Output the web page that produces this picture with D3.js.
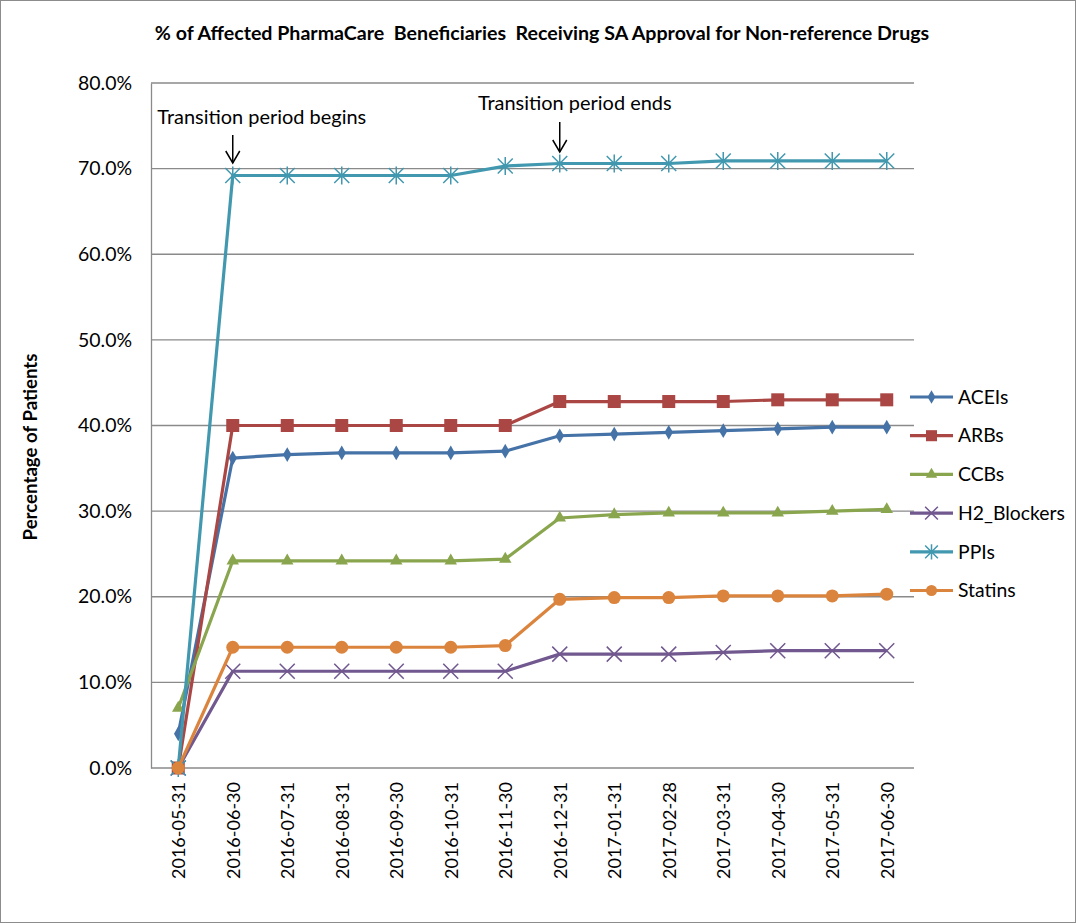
<!DOCTYPE html>
<html><head><meta charset="utf-8">
<script src="https://cdn.jsdelivr.net/npm/d3@7"></script>
<style>body{margin:0;background:#fff}svg{display:block}</style>
</head><body>
<svg id="c" width="1076" height="923"></svg>
<script>
const categories = ["2016-05-31","2016-06-30","2016-07-31","2016-08-31","2016-09-30","2016-10-31","2016-11-30","2016-12-31","2017-01-31","2017-02-28","2017-03-31","2017-04-30","2017-05-31","2017-06-30"];
const seriesNames = ["ACEIs","ARBs","CCBs","H2_Blockers","PPIs","Statins"];
const aceis   = [4.0,36.2,36.6,36.8,36.8,36.8,37.0,38.8,39.0,39.2,39.4,39.6,39.8,39.8];
const arbs    = [0.0,40.0,40.0,40.0,40.0,40.0,40.0,42.8,42.8,42.8,42.8,43.0,43.0,43.0];
const ccbs    = [7.0,24.2,24.2,24.2,24.2,24.2,24.4,29.2,29.6,29.8,29.8,29.8,30.0,30.2];
const h2      = [0.0,11.3,11.3,11.3,11.3,11.3,11.3,13.3,13.3,13.3,13.5,13.7,13.7,13.7];
const ppis    = [0.0,69.2,69.2,69.2,69.2,69.2,70.3,70.6,70.6,70.6,70.9,70.9,70.9,70.9];
const statins = [0.0,14.1,14.1,14.1,14.1,14.1,14.3,19.7,19.9,19.9,20.1,20.1,20.1,20.3];
const yTicks = [0,10,20,30,40,50,60,70,80];
const title = "% of Affected PharmaCare  Beneficiaries  Receiving SA Approval for Non-reference Drugs";
const yTitle = "Percentage of Patients";
const annotations = [{cat:"2016-06-30", text:"Transition period begins"},{cat:"2016-12-31", text:"Transition period ends"}];

const seriesData = [aceis, arbs, ccbs, h2, ppis, statins];
const colors = ["#4572A7","#AA4643","#89A54E","#71588F","#4198AF","#DB843D"];
const markers = ["diamond","square","triangle","x","star","circle"];

const svg = d3.select("#c");
const font = "Lato, 'Open Sans', sans-serif";

// scale a text selection's font size so the reference node reaches target width
function fitWidth(sel, refNode, target) {
  const fs = parseFloat(d3.select(refNode).attr("font-size"));
  const w = refNode.getComputedTextLength();
  sel.attr("font-size", (fs * target / w).toFixed(2));
}

svg.append("rect").attr("x",0.5).attr("y",0.5).attr("width",1075).attr("height",922)
  .attr("fill","#fff").attr("stroke","#8c8c8c");

const L = 151, R = 914, T = 83, B = 768;
const x = d3.scalePoint().domain(categories).range([L, R]).padding(0.5);
const y = d3.scaleLinear().domain([0,80]).range([B, T]);

// gridlines
svg.append("g").selectAll("line").data(yTicks.filter(d=>d>0)).join("line")
  .attr("x1",L).attr("x2",R).attr("y1",d=>y(d)).attr("y2",d=>y(d))
  .attr("stroke","#8a8a8a").attr("stroke-width",1.3);

// y axis
const ya = svg.append("g").attr("transform",`translate(${L},0)`)
  .call(d3.axisLeft(y).tickValues(yTicks).tickFormat(d=>d.toFixed(1)+"%").tickSize(0).tickPadding(19));
ya.select(".domain").attr("stroke","#8a8a8a").attr("stroke-width",1.3);
const yt = ya.selectAll("text").attr("font-family",font).attr("font-size",15).attr("fill","#000");
fitWidth(yt, yt.nodes()[yt.size()-1], 54);

// x axis
const xa = svg.append("g").attr("transform",`translate(0,${B})`)
  .call(d3.axisBottom(x).tickSize(0).tickPadding(0));
xa.select(".domain").attr("stroke","#8a8a8a").attr("stroke-width",1.3).attr("d",`M${L},0H${R}`);
const xt = xa.selectAll("text").attr("font-family",font).attr("font-size",15).attr("fill","#000")
  .attr("transform","rotate(-90)").attr("text-anchor","end").attr("x",-14).attr("y",0).attr("dy","0.35em");
fitWidth(xt, xt.nodes()[0], 97);

// markers
function drawMarker(g, type, color, size) {
  if (type === "diamond") {
    g.append("path").attr("d",d3.symbol(d3.symbolDiamond, size*9)()).attr("fill",color);
  } else if (type === "square") {
    g.append("rect").attr("x",-size).attr("y",-size).attr("width",2*size).attr("height",2*size).attr("fill",color);
  } else if (type === "triangle") {
    g.append("path").attr("d",d3.symbol(d3.symbolTriangle, size*9)()).attr("fill",color);
  } else if (type === "circle") {
    g.append("circle").attr("r",size).attr("fill",color);
  } else if (type === "x") {
    const s = size;
    g.append("path").attr("d",`M${-s},${-s}L${s},${s}M${-s},${s}L${s},${-s}`).attr("stroke",color).attr("stroke-width",1.5);
  } else if (type === "star") {
    const s = size;
    g.append("path").attr("d",`M${-s},${-s}L${s},${s}M${-s},${s}L${s},${-s}M0,${-s*1.2}L0,${s*1.2}`).attr("stroke",color).attr("stroke-width",1.5);
  }
}
const mSize = {diamond:7, square:6.5, triangle:7.5, circle:6.5, x:7.5, star:7.5};

const line = d3.line().x((d,i)=>x(categories[i])).y(d=>y(d));
seriesData.forEach((vals, si) => {
  const g = svg.append("g");
  g.append("path").datum(vals).attr("d",line).attr("fill","none")
    .attr("stroke",colors[si]).attr("stroke-width",3.2).attr("stroke-linejoin","round");
  vals.forEach((v,i)=>{
    const mg = g.append("g").attr("transform",`translate(${x(categories[i])},${y(v)})`);
    drawMarker(mg, markers[si], colors[si], mSize[markers[si]]);
  });
});

// legend
const lg = svg.append("g");
const legTexts = [];
seriesNames.forEach((n, i) => {
  const ly = 397 + i*38.7;
  const g = lg.append("g").attr("transform",`translate(0,${ly})`);
  g.append("line").attr("x1",910).attr("x2",953).attr("y1",0).attr("y2",0).attr("stroke",colors[i]).attr("stroke-width",3.2);
  const mg = g.append("g").attr("transform","translate(931.5,0)");
  drawMarker(mg, markers[i], colors[i], mSize[markers[i]]*0.85);
  legTexts.push(g.append("text").attr("class","leg").attr("x",958).attr("y",0).attr("dy","0.35em").attr("font-family",font).attr("font-size",16.5).attr("fill","#000").text(n).node());
});
fitWidth(lg.selectAll("text.leg"), legTexts[3], 107);

// title
const tt = svg.append("text").attr("x",542).attr("y",40).attr("text-anchor","middle")
  .attr("font-family",font).attr("font-weight","bold").attr("font-size",15.5).attr("fill","#000")
  .attr("xml:space","preserve").style("white-space","pre").text(title);
fitWidth(tt, tt.node(), 775);

// y title
const ytt = svg.append("text").attr("transform","translate(37,447) rotate(-90)").attr("text-anchor","middle")
  .attr("font-family",font).attr("font-weight","bold").attr("font-size",15.5).attr("fill","#000").text(yTitle);
fitWidth(ytt, ytt.node(), 187);

// annotations
const annY = [{text:124, a1:135, a2:163, dx:29},{text:110, a1:122, a2:152, dx:15}];
const annNodes = [];
annotations.forEach((a, i) => {
  const cx = x(a.cat);
  annNodes.push(svg.append("text").attr("class","ann").attr("x",cx+annY[i].dx).attr("y",annY[i].text).attr("text-anchor","middle")
    .attr("font-family",font).attr("font-size",18).attr("fill","#000").text(a.text).node());
  svg.append("line").attr("x1",cx).attr("x2",cx).attr("y1",annY[i].a1).attr("y2",annY[i].a2).attr("stroke","#000").attr("stroke-width",1.5);
  svg.append("path").attr("d",`M${cx-7},${annY[i].a2-12}L${cx},${annY[i].a2}L${cx+7},${annY[i].a2-12}`)
    .attr("fill","none").attr("stroke","#000").attr("stroke-width",1.5);
});
fitWidth(svg.selectAll("text.ann"), annNodes[0], 209);
</script>
</body></html>
